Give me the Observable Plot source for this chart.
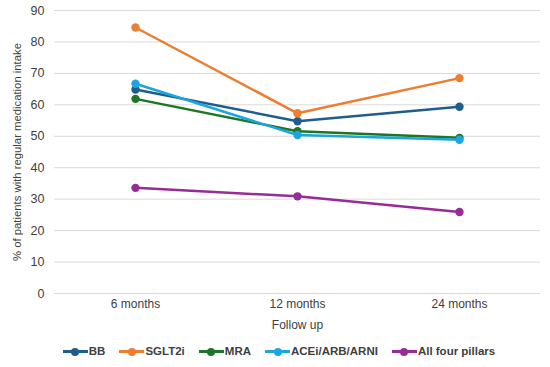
<!DOCTYPE html>
<html><head><meta charset="utf-8">
<script src="https://cdn.jsdelivr.net/npm/d3@7"></script>
<script src="https://cdn.jsdelivr.net/npm/@observablehq/plot@0.6"></script>
<style>
body{margin:0;background:#fff;font-family:"Liberation Sans",Arial,sans-serif;}
#legend{display:flex;justify-content:center;align-items:center;height:32px;font-weight:bold;font-size:11.5px;color:#404040;gap:14px;padding-left:8px;}
.item{display:flex;align-items:center;}
.sw{position:relative;width:25px;height:10px;margin-right:1px;}
.sw .l{position:absolute;left:0;right:0;top:4px;height:2.5px;}
.sw .d{position:absolute;left:8.5px;top:1.5px;width:8px;height:8px;border-radius:50%;}
</style></head><body>
<div id="chart"></div>
<div id="legend"></div>
<script>
const periods = ["6 months", "12 months", "24 months"];
const seriesNames = ["BB", "SGLT2i", "MRA", "ACEi/ARB/ARNI", "All four pillars"];
const BB = [64.9, 54.8, 59.4];
const SGLT2i = [84.6, 57.3, 68.5];
const MRA = [61.9, 51.6, 49.5];
const ACEi = [66.7, 50.4, 48.9];
const allFour = [33.6, 30.9, 25.9];
const colors = ["#1F5D8C", "#ED7D31", "#1D7526", "#1DA5DF", "#982C96"];

const valuesBySeries = [BB, SGLT2i, MRA, ACEi, allFour];
const data = [];
seriesNames.forEach((s, i) => periods.forEach((p, j) => data.push({series: s, period: p, value: valuesBySeries[i][j]})));

const plot = Plot.plot({
  width: 550, height: 335,
  marginTop: 10, marginBottom: 42, marginLeft: 54, marginRight: 10,
  style: {fontFamily: "'Liberation Sans', Arial, sans-serif", fontSize: "12px", color: "#404040", overflow: "visible"},
  x: {type: "point", domain: periods, padding: 0.5, label: null},
  y: {domain: [0, 90], ticks: d3.range(0, 91, 10), label: null},
  color: {domain: seriesNames, range: colors},
  marks: [
    Plot.gridY(d3.range(0, 91, 10), {stroke: "#d9d9d9", strokeOpacity: 1, strokeWidth: 1}),
    Plot.axisY(d3.range(0, 91, 10), {tickSize: 0, tickPadding: 10, fontSize: 12.5, fill: "#404040"}),
    Plot.axisX({tickSize: 0, tickPadding: 6, fontSize: 12, fill: "#404040", label: null}),
    Plot.text(["Follow up"], {frameAnchor: "bottom", dy: 35, fontSize: 12, fill: "#404040"}),
    Plot.text(["% of patients with regular medication intake"], {frameAnchor: "left", textAnchor: "middle", dx: -37, rotate: -90, fontSize: 11.3, fill: "#404040"}),
    Plot.line(data, {x: "period", y: "value", z: "series", stroke: "series", strokeWidth: 2.5}),
    Plot.dot(data, {x: "period", y: "value", fill: "series", r: 4.2})
  ]
});
document.getElementById("chart").appendChild(plot);

const leg = document.getElementById("legend");
seriesNames.forEach((s, i) => {
  const it = document.createElement("div"); it.className = "item";
  it.innerHTML = `<div class="sw"><div class="l" style="background:${colors[i]}"></div><div class="d" style="background:${colors[i]}"></div></div><span>${s}</span>`;
  leg.appendChild(it);
});
</script>
</body></html>
